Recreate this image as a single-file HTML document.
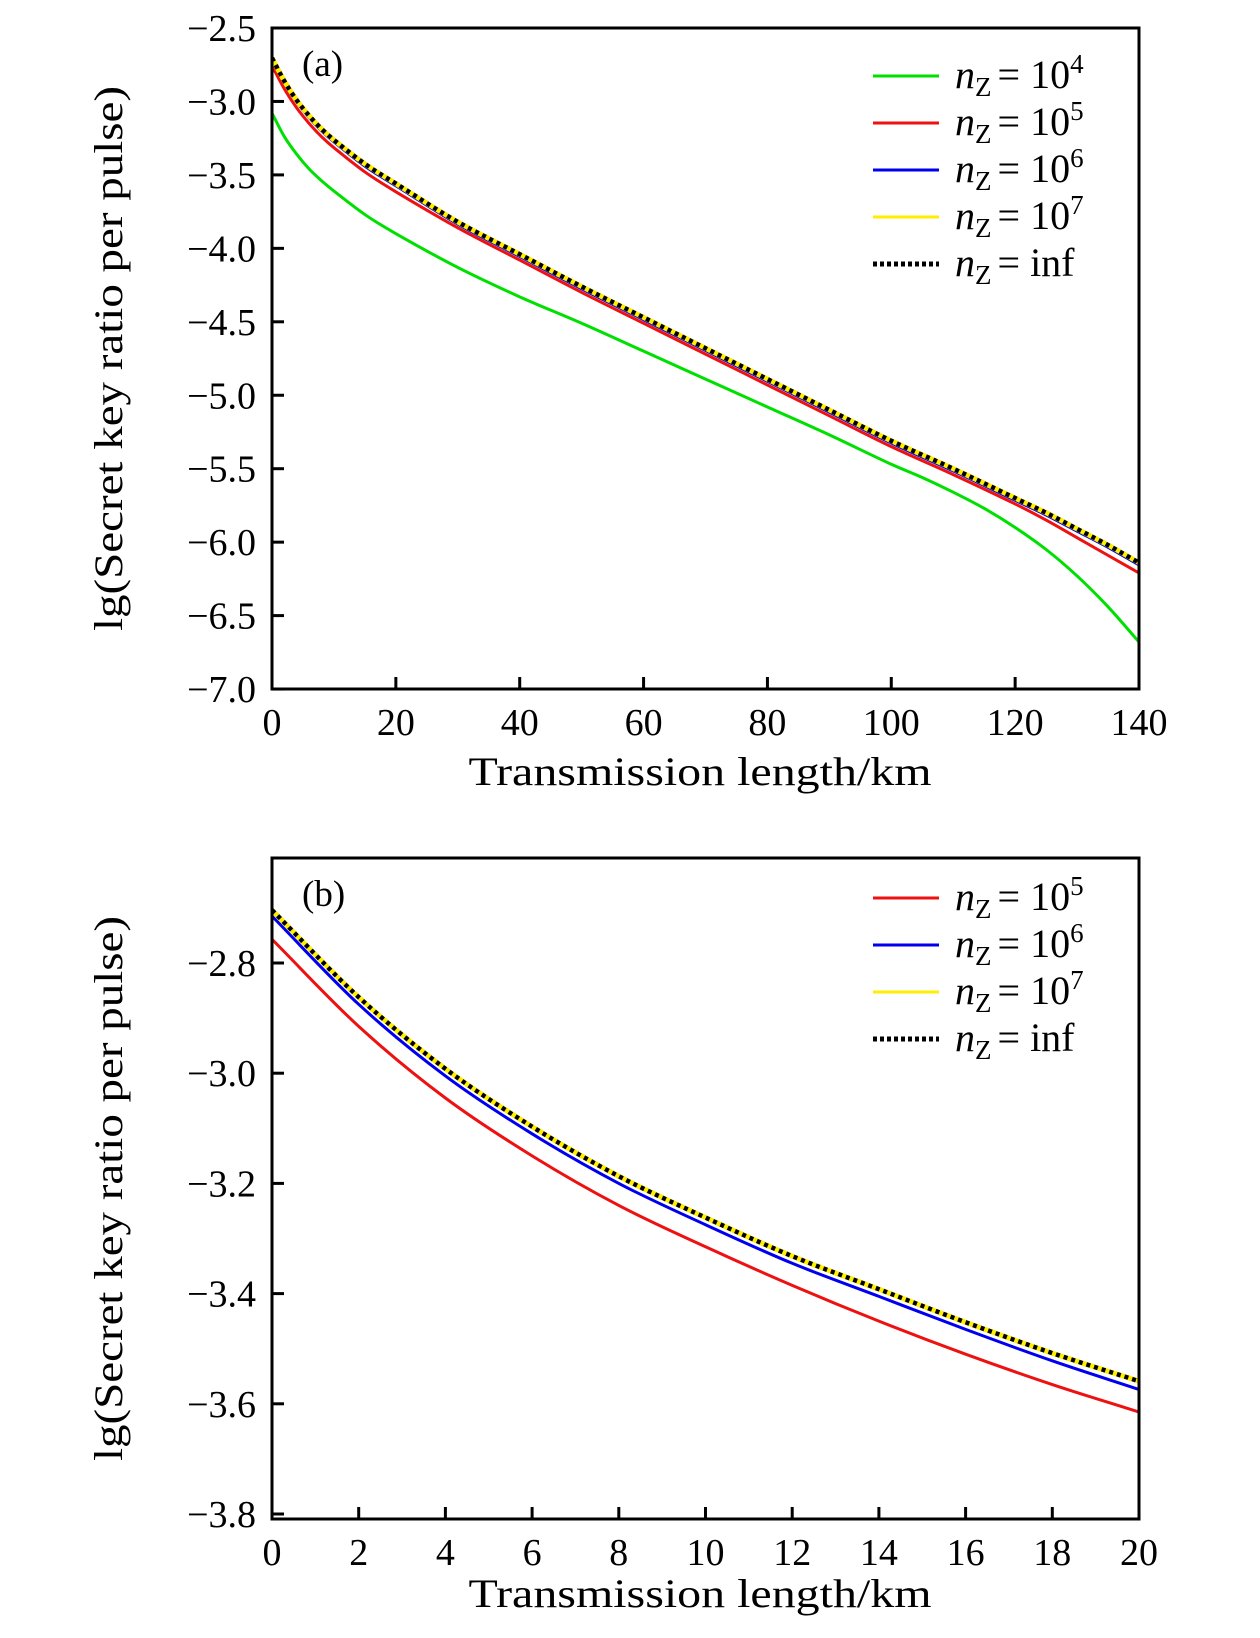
<!DOCTYPE html>
<html><head><meta charset="utf-8"><style>
html,body{margin:0;padding:0;background:#fff;}
svg{display:block;font-family:"Liberation Serif",serif;}
</style></head><body>
<svg id="fig" width="1260" height="1638" viewBox="0 0 1260 1638" xmlns="http://www.w3.org/2000/svg"></svg>
<script>
// Panel (a) data
const aX = [0,2,4,6,8,10,15,20,30,40,50,60,70,80,90,100,110,120,125,130,135,140];
const aGreenX = [0,2,4,6,8,10,15,20,30,40,50,60,70,80,90,100,105,110,115,120,125,130,135,140];
const aGreen = [-3.08,-3.24,-3.36,-3.46,-3.54,-3.61,-3.77,-3.90,-4.13,-4.33,-4.51,-4.70,-4.89,-5.08,-5.27,-5.47,-5.56,-5.66,-5.77,-5.90,-6.05,-6.23,-6.44,-6.68];
const aRed   = [-2.757,-2.915,-3.045,-3.150,-3.240,-3.315,-3.48,-3.615,-3.86,-4.08,-4.30,-4.51,-4.72,-4.93,-5.14,-5.35,-5.54,-5.74,-5.85,-5.97,-6.09,-6.21];
const aBlue  = [-2.715,-2.875,-3.005,-3.110,-3.200,-3.275,-3.44,-3.574,-3.835,-4.055,-4.275,-4.485,-4.695,-4.905,-5.115,-5.325,-5.515,-5.715,-5.815,-5.925,-6.035,-6.155];
const aYellow= [-2.704,-2.862,-2.992,-3.097,-3.187,-3.262,-3.425,-3.559,-3.82,-4.04,-4.26,-4.47,-4.68,-4.89,-5.10,-5.31,-5.50,-5.70,-5.80,-5.91,-6.02,-6.14];
const aInf   = [-2.704,-2.862,-2.992,-3.097,-3.187,-3.262,-3.425,-3.559,-3.82,-4.04,-4.26,-4.47,-4.68,-4.89,-5.10,-5.31,-5.50,-5.70,-5.80,-5.91,-6.02,-6.14];
const aXTicks = [0,20,40,60,80,100,120,140];
const aYTicks = [-2.5,-3.0,-3.5,-4.0,-4.5,-5.0,-5.5,-6.0,-6.5,-7.0];
const aYTickLabels = ["\u22122.5","\u22123.0","\u22123.5","\u22124.0","\u22124.5","\u22125.0","\u22125.5","\u22126.0","\u22126.5","\u22127.0"];
// Panel (b) data
const bX = [0,2,4,6,8,10,12,14,16,18,20];
const bRed   = [-2.757,-2.915,-3.045,-3.150,-3.240,-3.315,-3.385,-3.450,-3.510,-3.565,-3.615];
const bBlue  = [-2.715,-2.875,-3.005,-3.110,-3.200,-3.275,-3.345,-3.405,-3.465,-3.522,-3.574];
const bYellow= [-2.704,-2.862,-2.992,-3.097,-3.187,-3.262,-3.332,-3.392,-3.452,-3.508,-3.559];
const bInf   = [-2.704,-2.862,-2.992,-3.097,-3.187,-3.262,-3.332,-3.392,-3.452,-3.508,-3.559];
const bXTicks = [0,2,4,6,8,10,12,14,16,18,20];
const bYTicks = [-2.8,-3.0,-3.2,-3.4,-3.6,-3.8];
const bYTickLabels = ["\u22122.8","\u22123.0","\u22123.2","\u22123.4","\u22123.6","\u22123.8"];
const legA = ["4","5","6","7","inf"];
const legB = ["5","6","7","inf"];

const NS="http://www.w3.org/2000/svg";
const svg=document.getElementById('fig');
function mk(tag,attrs,parent){const e=document.createElementNS(NS,tag);for(const k in attrs)e.setAttribute(k,attrs[k]);(parent||svg).appendChild(e);return e;}
function pathFor(xs,ys,sx,sy){
  const p=xs.map((x,i)=>[sx(x),sy(ys[i])]);
  let d="M"+p[0][0].toFixed(2)+","+p[0][1].toFixed(2);
  for(let i=0;i<p.length-1;i++){
    const p0=p[Math.max(0,i-1)],p1=p[i],p2=p[i+1],p3=p[Math.min(p.length-1,i+2)];
    const h=p2[0]-p1[0];
    const s0=(p2[1]-p0[1])/((p2[0]-p0[0])||1), s1=(p3[1]-p1[1])/((p3[0]-p1[0])||1);
    const c1x=p1[0]+h/3,c1y=p1[1]+s0*h/3;
    const c2x=p2[0]-h/3,c2y=p2[1]-s1*h/3;
    d+=" C"+c1x.toFixed(2)+","+c1y.toFixed(2)+" "+c2x.toFixed(2)+","+c2y.toFixed(2)+" "+p2[0].toFixed(2)+","+p2[1].toFixed(2);
  }
  return d;
}
function panel(o){
  const g=mk('g',{});
  
  
  const L=272,R=1139,T=o.top,B=o.bottom;
  const sx=v=>L+(v-o.xmin)/(o.xmax-o.xmin)*(R-L);
  const sy=v=>o.y0px+(v-o.y0)*o.pxPerUnit*-1;
  const clip=mk('clipPath',{id:'clip'+o.id},g);
  mk('rect',{x:L,y:T,width:R-L,height:B-T},clip);
  const series=[
    {d:o.green,xs:o.greenXs,c:'#00e000',n:'green-series'},
    {d:o.red,c:'#ee1111',n:'red-series'},
    {d:o.blue,c:'#0000ee',n:'blue-series'},
    {d:o.yellow,c:'#ffee00',n:'yellow-series',w:5},
  ];
  series.forEach(s=>{ if(!s.d) return;
    const p=mk('path',{d:pathFor(s.xs||o.xs,s.d,sx,sy),fill:'none',stroke:s.c,'stroke-width':s.w||3,'clip-path':'url(#clip'+o.id+')'},g);
    
    
  });
  const pi=mk('path',{d:pathFor(o.xs,o.inf,sx,sy),fill:'none',stroke:'#000','stroke-width':4.5,'stroke-dasharray':'4 4','clip-path':'url(#clip'+o.id+')'},g);
  
  
  o.xt.forEach(v=>{
    mk('line',{x1:sx(v),x2:sx(v),y1:B,y2:B-12,stroke:'#000','stroke-width':3},g);
    const t=mk('text',{x:sx(v),y:B+46,'text-anchor':'middle','font-size':38},g);
    
    
    t.textContent=String(v);
  });
  o.yt.forEach((v,i)=>{
    mk('line',{x1:L,x2:L+12,y1:sy(v),y2:sy(v),stroke:'#000','stroke-width':3},g);
    const t=mk('text',{x:256,y:sy(v)+13,'text-anchor':'end','font-size':38},g);
    
    
    t.textContent=o.ytl[i];
  });
  const fr=mk('rect',{x:L,y:T,width:R-L,height:B-T,fill:'none',stroke:'#000','stroke-width':3},g);
  
  
  const lab=mk('text',{x:302,y:T+48,'font-size':37},g);
  
  
  lab.textContent=o.label;
  const xt=mk('text',{x:700,y:o.xtitleY,'text-anchor':'middle','font-size':40,textLength:463,lengthAdjust:'spacingAndGlyphs'},g);
  
  
  xt.textContent='Transmission length/km';
  const yc=(T+B)/2;
  const yt=mk('text',{x:0,y:0,'text-anchor':'middle','font-size':40,textLength:545,lengthAdjust:'spacingAndGlyphs',transform:'translate(122,'+yc+') rotate(-90)'},g);
  
  
  yt.textContent='lg(Secret key ratio per pulse)';
  const lg=mk('g',{},g);
  
  
  o.leg.forEach((e,i)=>{
    const y=o.legTop+i*47;
    const cols={"4":'#00e000',"5":'#ee1111',"6":'#0000ee',"7":'#ffee00',"inf":'#000'};
    const ln=mk('line',{x1:873,x2:939,y1:y,y2:y,stroke:cols[e],'stroke-width':e==='inf'?5:3,'stroke-dasharray':e==='inf'?'4 3':'none'},lg);
    
    
    const t=mk('text',{x:955,y:y+12,'font-size':40},lg);
    
    
    const n=mk('tspan',{'font-style':'italic'},t); n.textContent='n';
    const z=mk('tspan',{'font-size':27,dy:8},t); z.textContent='Z';
    const eq=mk('tspan',{dy:-8,dx:6},t); eq.textContent='= ';
    if(e==='inf'){const r=mk('tspan',{},t); r.textContent='inf';}
    else{const r=mk('tspan',{},t); r.textContent='10'; const s=mk('tspan',{'font-size':27,dy:-15},t); s.textContent=e;}
  });
}
panel({id:'a',name:'panel-a',top:28,bottom:689,xmin:0,xmax:140,y0:-2.5,y0px:28,pxPerUnit:146.9,
  xs:aX,greenXs:aGreenX,green:aGreen,red:aRed,blue:aBlue,yellow:aYellow,inf:aInf,xt:aXTicks,yt:aYTicks,ytl:aYTickLabels,
  label:'(a)',xtitleY:785,leg:legA,legTop:76});
panel({id:'b',name:'panel-b',top:858,bottom:1519,xmin:0,xmax:20,y0:-2.8,y0px:963,pxPerUnit:551,
  xs:bX,red:bRed,blue:bBlue,yellow:bYellow,inf:bInf,xt:bXTicks,yt:bYTicks,ytl:bYTickLabels,
  label:'(b)',xtitleY:1607,leg:legB,legTop:898});
</script>
</body></html>
